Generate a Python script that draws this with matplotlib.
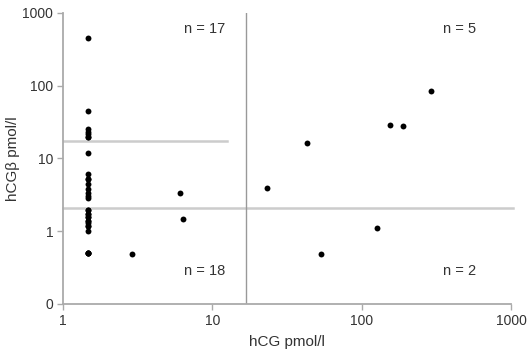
import matplotlib
matplotlib.use("Agg")
import matplotlib.pyplot as plt
from matplotlib.ticker import FixedLocator, FuncFormatter, NullLocator

plt.rcParams['font.family'] = ['Liberation Sans', 'DejaVu Sans']

# hCG (x) vs hCGbeta (y), pmol/l
hcg = [1.46, 1.46, 1.46, 1.46, 1.46, 1.46, 1.46, 1.46, 1.46, 1.46,
       1.46, 1.46, 1.46, 1.46, 1.46, 1.46, 6.1,
       1.46, 1.46, 1.46, 1.46, 1.46, 1.46, 1.46, 1.46, 1.46, 1.46,
       1.46, 1.46, 1.46, 1.46, 1.46, 1.46, 2.9, 6.4,
       23.2, 43.3, 154, 190, 292,
       53, 126]
hcgb = [447, 45, 25, 23, 21.5, 20, 11.7, 6.2, 5.3, 4.5, 3.8, 3.4, 3.0, 2.9, 20, 5.3, 3.36,
        1.95, 1.75, 1.55, 1.4, 1.28, 1.18, 1.0, 0.5, 0.5, 0.5, 1.75, 1.4, 1.18, 0.5, 1.95, 1.55, 0.49, 1.48,
        3.94, 16.2, 28.7, 28.1, 85,
        0.49, 1.09]

x_cut = 16.7      # vertical cut-off
y_cut = 2.09      # lower horizontal cut-off
y_cut_hi = 17.5   # upper horizontal line (left only)

quad_labels = ["n = 17", "n = 5", "n = 18", "n = 2"]
quad_x = [8.9, 450, 8.9, 450]
quad_y = [610, 610, 0.285, 0.285]

x_ticks = [1, 10, 100, 1000]
y_ticks = [0.1, 1, 10, 100, 1000]

fig = plt.figure(figsize=(5.27, 3.49), dpi=100)
ax = fig.add_axes([0.1195, 0.129, 0.8505, 0.834])

ax.set_xscale('log')
ax.set_yscale('log')
ax.set_xlim(1, 1000)
ax.set_ylim(0.1, 1000)

ax.plot([1, 1030], [y_cut, y_cut], color='#cccccc', lw=1.8, clip_on=False, zorder=1)
ax.plot([1, 12.5], [y_cut_hi, y_cut_hi], color='#cccccc', lw=1.8, zorder=1)
ax.axvline(x_cut, color='#999999', lw=1.0, zorder=1)

ax.scatter(hcg, hcgb, s=18, color='black', zorder=3, linewidths=0)

for lbl, tx, ty in zip(quad_labels, quad_x, quad_y):
    ax.text(tx, ty, lbl, ha='center', va='center', fontsize=10.5, color='#333333')

ax.xaxis.set_major_locator(FixedLocator(x_ticks))
ax.yaxis.set_major_locator(FixedLocator(y_ticks))
ax.xaxis.set_minor_locator(NullLocator())
ax.yaxis.set_minor_locator(NullLocator())
ax.xaxis.set_major_formatter(FuncFormatter(lambda v, p: f"{v:g}"))
ax.yaxis.set_major_formatter(FuncFormatter(lambda v, p: "0" if v < 1 else f"{v:g}"))

for side in ['top', 'right']:
    ax.spines[side].set_visible(False)
for side in ['left', 'bottom']:
    ax.spines[side].set_color('#aaaaaa')
    ax.spines[side].set_linewidth(1.3)

ax.tick_params(axis='both', which='major', direction='out', length=4, width=1,
               color='#aaaaaa', labelsize=10, labelcolor='#333333', pad=3)

ax.set_xlabel('hCG pmol/l', fontsize=11, color='#333333', labelpad=5)
ax.set_ylabel('hCGβ pmol/l', fontsize=11, color='#333333', labelpad=2)

fig.savefig('out.png', dpi=100)
